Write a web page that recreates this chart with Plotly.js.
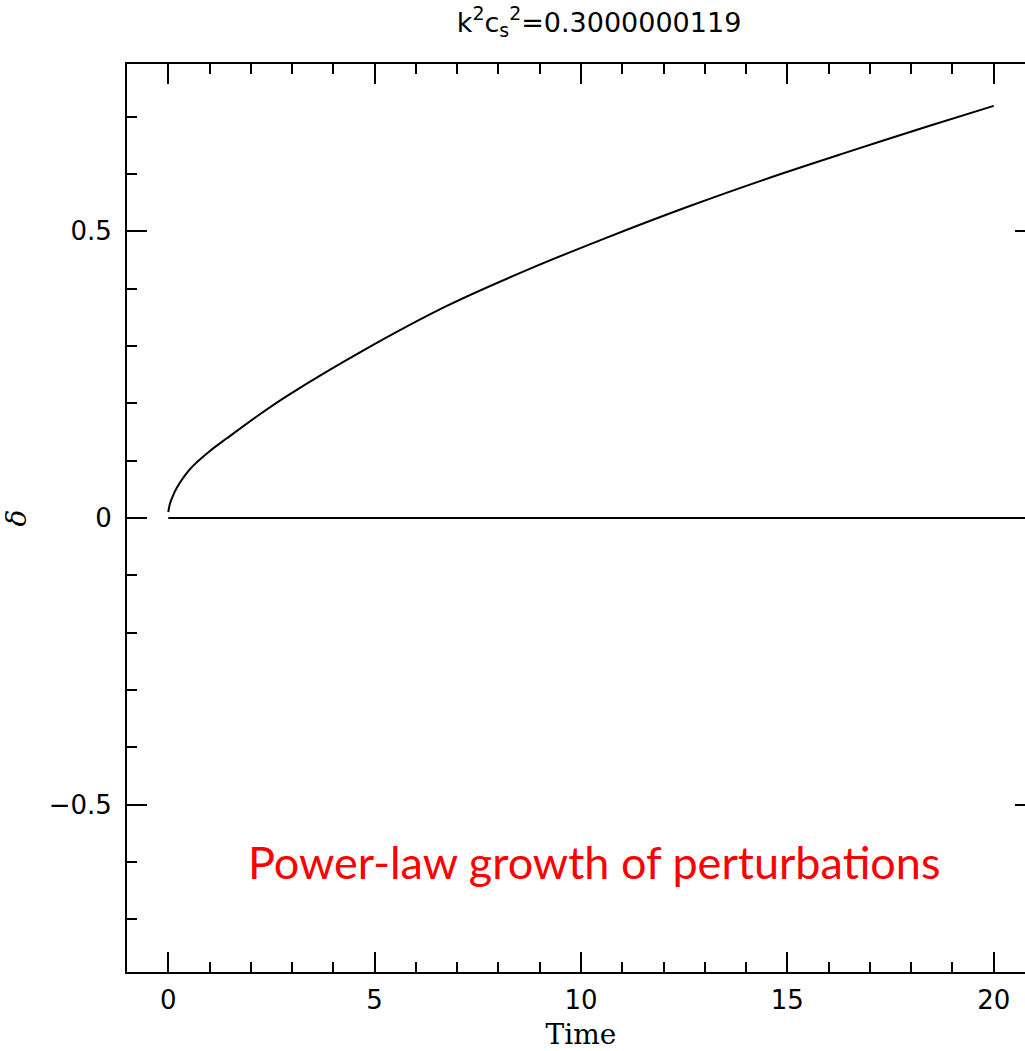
<!DOCTYPE html>
<html>
<head>
<meta charset="utf-8">
<script src="https://cdn.plot.ly/plotly-3.0.1.min.js"></script>
<style>
html,body{margin:0;padding:0;overflow:hidden;background:#fff;}
#chart{width:1040px;height:1051px;}
</style>
</head>
<body>
<div id="chart"></div>
<script>
// Curve values
const time  = [0, 0.04, 0.12, 0.2, 0.4, 0.6, 1.01, 1.42, 2.22, 2.9, 4.73, 6.75, 8.77, 10.55, 12.57, 14.59, 16.36, 18.39, 20];
const delta = [0.0105, 0.025, 0.040, 0.052, 0.074, 0.091, 0.117, 0.139, 0.181, 0.214, 0.2925, 0.370, 0.435, 0.487, 0.5425, 0.594, 0.636, 0.683, 0.719];
// Zero reference line
const zeroX = [0, 21];
const zeroY = [0, 0];

const xTicks = [0, 5, 10, 15, 20];
const xTickText = ["0", "5", "10", "15", "20"];
const yTicks = [-0.5, 0, 0.5];
const yTickText = ["\u22120.5", "0", "0.5"];

const titleText = "k<sup>2</sup>c<sub>s</sub><sup>2</sup>=0.3000000119";
const noteText = "Power-law growth of perturbations";

const tickFont = {family: "DejaVu Sans", size: 26, color: "#000"};

const traces = [
  {x: time, y: delta, mode: "lines", line: {color: "#000", width: 2, shape: "spline", smoothing: 0.8}, hoverinfo: "skip"},
  {x: zeroX, y: zeroY, mode: "lines", line: {color: "#000", width: 2}, hoverinfo: "skip"}
];

const layout = {
  width: 1040, height: 1051,
  margin: {l: 127, r: 5, t: 64, b: 79, pad: 0},
  paper_bgcolor: "#fff", plot_bgcolor: "#fff",
  showlegend: false,
  title: {text: titleText, x: 0.576, xanchor: "center", xref: "container", y: 0.979, yanchor: "middle", yref: "container",
          font: {family: "DejaVu Sans", size: 27, color: "#000"}},
  xaxis: {
    range: [-1, 21], showgrid: false, zeroline: false,
    showline: true, linecolor: "#000", linewidth: 2, mirror: "ticks",
    ticks: "inside", ticklen: 20, tickwidth: 2, tickcolor: "#000",
    tickvals: xTicks, ticktext: xTickText, tickfont: tickFont, ticklabelstandoff: 4,
    minor: {dtick: 1, ticks: "inside", ticklen: 10, tickwidth: 2, tickcolor: "#000", showgrid: false},
    title: {text: "Time", font: {family: "DejaVu Serif", size: 28, color: "#000"}, standoff: 10}
  },
  yaxis: {
    range: [-0.792, 0.792], showgrid: false, zeroline: false,
    showline: true, linecolor: "#000", linewidth: 2, mirror: "ticks",
    ticks: "inside", ticklen: 20, tickwidth: 2, tickcolor: "#000",
    tickvals: yTicks, ticktext: yTickText, tickfont: tickFont, ticklabelstandoff: 8,
    minor: {dtick: 0.1, ticks: "inside", ticklen: 10, tickwidth: 2, tickcolor: "#000", showgrid: false},
    title: {text: "<i>δ</i>", font: {family: "DejaVu Serif", size: 28, color: "#000"}, standoff: 16}
  },
  annotations: [{
    text: noteText, xref: "paper", yref: "paper", x: 0.514, y: 0.121,
    xanchor: "center", yanchor: "middle", showarrow: false,
    font: {family: "Lato", size: 45, color: "#ff0000"}
  }]
};

Plotly.newPlot("chart", traces, layout, {displayModeBar: false, staticPlot: true});
</script>
</body>
</html>
